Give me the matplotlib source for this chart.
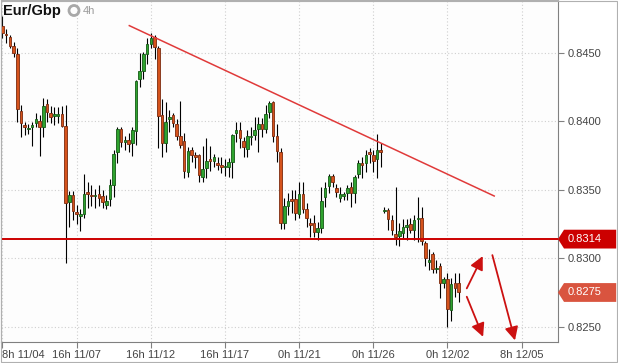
import numpy as np
import matplotlib
matplotlib.use("Agg")
from matplotlib import pyplot as plt
from matplotlib import transforms
from matplotlib.patches import Polygon, Ellipse, Rectangle

# 4h candles, Eur/Gbp
opens = [
    0.84697, 0.84641, 0.84615, 0.84553, 0.84493, 0.84074, 0.83974, 0.83942, 0.83961, 0.83986,
    0.84003, 0.83961, 0.84125, 0.84059, 0.84042, 0.84042, 0.84052, 0.83969, 0.83409, 0.83462,
    0.83340, 0.83311, 0.83325, 0.83482, 0.83462, 0.83452, 0.83469, 0.83455, 0.83391, 0.83431,
    0.83537, 0.83779, 0.83942, 0.83852, 0.83864, 0.83844, 0.83932, 0.84312, 0.84371, 0.84493,
    0.84566, 0.84619, 0.84534, 0.84047, 0.83840, 0.84020, 0.84047, 0.83981, 0.83893, 0.83857,
    0.83632, 0.83791, 0.83754, 0.83754, 0.83596, 0.83657, 0.83725, 0.83713, 0.83694, 0.83681,
    0.83664, 0.83669, 0.83705, 0.83913, 0.83937, 0.83857, 0.83798, 0.83884, 0.83901, 0.83942,
    0.83981, 0.83944, 0.84071, 0.84142, 0.83895, 0.83779, 0.83260, 0.83382, 0.83433, 0.83433,
    0.83321, 0.83467, 0.83360, 0.83255, 0.83255, 0.83189, 0.83218, 0.83445, 0.83528, 0.83601,
    0.83515, 0.83438, 0.83457, 0.83480, 0.83518, 0.83479, 0.83613, 0.83696, 0.83694, 0.83776,
    0.83754, 0.83723, 0.83791, 0.83343, 0.83352, 0.83279, 0.83177, 0.83164, 0.83186, 0.83230,
    0.83250, 0.83206, 0.83284, 0.83296, 0.83113, 0.82974, 0.83031, 0.82919, 0.82943, 0.82821,
    0.82846, 0.82621, 0.82819, 0.82819]
highs = [
    0.84770, 0.84673, 0.84632, 0.84583, 0.84534, 0.84118, 0.83998, 0.83981, 0.83998, 0.84059,
    0.84047, 0.84169, 0.84164, 0.84113, 0.84103, 0.84107, 0.84113, 0.84118, 0.83491, 0.83491,
    0.83389, 0.83360, 0.83615, 0.83555, 0.83535, 0.83506, 0.83535, 0.83499, 0.83462, 0.83579,
    0.83791, 0.83957, 0.83957, 0.83893, 0.83913, 0.83957, 0.84300, 0.84498, 0.84505, 0.84607,
    0.84644, 0.84632, 0.84551, 0.84164, 0.84144, 0.84083, 0.84064, 0.84015, 0.84149, 0.83913,
    0.83815, 0.83815, 0.83779, 0.83760, 0.83820, 0.83876, 0.83820, 0.83762, 0.83742, 0.83742,
    0.83723, 0.83730, 0.83905, 0.83998, 0.83998, 0.83884, 0.83937, 0.83961, 0.84034, 0.84034,
    0.84023, 0.84120, 0.84151, 0.84151, 0.83981, 0.83803, 0.83438, 0.83479, 0.83499, 0.83499,
    0.83559, 0.83559, 0.83401, 0.83292, 0.83316, 0.83267, 0.83523, 0.83559, 0.83613, 0.83613,
    0.83542, 0.83523, 0.83486, 0.83535, 0.83559, 0.83608, 0.83718, 0.83742, 0.83791, 0.83808,
    0.83791, 0.83908, 0.83840, 0.83372, 0.83365, 0.83316, 0.83523, 0.83255, 0.83284, 0.83287,
    0.83292, 0.83316, 0.83450, 0.83372, 0.83128, 0.83067, 0.83048, 0.82987, 0.82963, 0.82865,
    0.82894, 0.82853, 0.82890, 0.82890]
lows = [
    0.84607, 0.84571, 0.84534, 0.84469, 0.83998, 0.83884, 0.83901, 0.83906, 0.83822, 0.83957,
    0.83749, 0.83888, 0.83998, 0.83990, 0.83974, 0.83990, 0.83961, 0.82967, 0.83230, 0.83279,
    0.83250, 0.83201, 0.83296, 0.83369, 0.83382, 0.83369, 0.83382, 0.83369, 0.83360, 0.83384,
    0.83450, 0.83694, 0.83811, 0.83791, 0.83779, 0.83747, 0.83827, 0.84254, 0.84312, 0.84420,
    0.84534, 0.84454, 0.83803, 0.83742, 0.83779, 0.83925, 0.83961, 0.83864, 0.83803, 0.83584,
    0.83596, 0.83705, 0.83657, 0.83555, 0.83555, 0.83584, 0.83640, 0.83669, 0.83645, 0.83621,
    0.83601, 0.83591, 0.83588, 0.83852, 0.83803, 0.83742, 0.83742, 0.83827, 0.83864, 0.83779,
    0.83888, 0.83913, 0.84023, 0.83847, 0.83705, 0.83213, 0.83213, 0.83316, 0.83328, 0.83279,
    0.83292, 0.83328, 0.83230, 0.83157, 0.83157, 0.83133, 0.83182, 0.83376, 0.83474, 0.83523,
    0.83450, 0.83413, 0.83425, 0.83425, 0.83372, 0.83401, 0.83584, 0.83584, 0.83632, 0.83694,
    0.83632, 0.83584, 0.83669, 0.83328, 0.83206, 0.83170, 0.83096, 0.83089, 0.83138, 0.83133,
    0.83182, 0.83133, 0.83121, 0.83096, 0.82945, 0.82914, 0.82890, 0.82890, 0.82707, 0.82780,
    0.82499, 0.82543, 0.82719, 0.82682]
closes = [
    0.84644, 0.84629, 0.84551, 0.84502, 0.84088, 0.83990, 0.83961, 0.83954, 0.83974, 0.84018,
    0.83961, 0.84113, 0.84071, 0.84034, 0.84052, 0.84052, 0.83969, 0.83406, 0.83462, 0.83347,
    0.83325, 0.83325, 0.83469, 0.83467, 0.83452, 0.83462, 0.83440, 0.83413, 0.83416, 0.83535,
    0.83762, 0.83942, 0.83852, 0.83864, 0.83835, 0.83937, 0.84295, 0.84371, 0.84493, 0.84566,
    0.84607, 0.84542, 0.84042, 0.83844, 0.83998, 0.84030, 0.83986, 0.83893, 0.83827, 0.83640,
    0.83786, 0.83754, 0.83742, 0.83608, 0.83650, 0.83711, 0.83713, 0.83740, 0.83681, 0.83669,
    0.83676, 0.83701, 0.83901, 0.83937, 0.83876, 0.83815, 0.83893, 0.83893, 0.83937, 0.83981,
    0.83944, 0.84054, 0.84132, 0.83895, 0.83786, 0.83260, 0.83384, 0.83418, 0.83420, 0.83328,
    0.83467, 0.83357, 0.83292, 0.83243, 0.83194, 0.83218, 0.83418, 0.83515, 0.83601, 0.83559,
    0.83482, 0.83467, 0.83467, 0.83511, 0.83479, 0.83591, 0.83694, 0.83683, 0.83754, 0.83764,
    0.83713, 0.83791, 0.83779, 0.83355, 0.83284, 0.83206, 0.83153, 0.83199, 0.83228, 0.83243,
    0.83206, 0.83279, 0.83296, 0.83128, 0.82999, 0.82987, 0.82921, 0.82931, 0.82821, 0.82848,
    0.82631, 0.82811, 0.82780, 0.82755]

tick_pos = [0, 20, 40, 60, 80, 100, 120, 140]
tick_labels = ["8h 11/04", "16h 11/07", "16h 11/12", "16h 11/17",
               "0h 11/21", "0h 11/26", "0h 12/02", "8h 12/05"]
yticks = [0.8250, 0.8300, 0.8350, 0.8400, 0.8450]

support = 0.8314
last_price = 0.8275
trend_x = [34.2, 132.6]
trend_y = [0.8470, 0.83455]
# arrows: (tail x, tail y, head x, head y)
arrows = [(125.2, 0.82780, 129.5, 0.83016),
          (125.2, 0.82719, 129.6, 0.82426),
          (132.1, 0.83023, 138.2, 0.82400)]

o = np.array(opens); h = np.array(highs); l = np.array(lows); c = np.array(closes)
x = np.arange(len(o))
up = c >= o

plt.rcParams['font.family'] = ['Liberation Sans', 'DejaVu Sans']
fig = plt.figure(figsize=(6.18, 3.63), dpi=100, facecolor='white')
W, H = 618, 363
ax = fig.add_axes([1 / W, 21 / H, 557 / W, 342 / H])
ax.set_facecolor('#fdfdfd')

ax.set_xlim(-0.4, 149.8)
ax.set_ylim(0.823882, 0.848873)

# grid
ax.set_yticks(yticks)
ax.set_xticks(tick_pos)
ax.grid(True, color='#cfcfcf', linestyle=(0, (1, 2)), linewidth=0.8)
ax.set_axisbelow(True)

# candles
ax.vlines(x, l, h, color='black', linewidth=0.8, zorder=2)
body_bot = np.minimum(o, c)
body_h = np.maximum(np.abs(c - o), 0.00008)
ax.bar(x[up], body_h[up], bottom=body_bot[up], width=0.7,
       color='#2fa32f', edgecolor='#155a15', linewidth=0.6, zorder=3)
ax.bar(x[~up], body_h[~up], bottom=body_bot[~up], width=0.7,
       color='#d5531c', edgecolor='#7c2a0e', linewidth=0.6, zorder=3)

# lines
ax.axhline(support, color='#cc0000', linewidth=1.4, zorder=4)
ax.plot(trend_x, trend_y, color='#e03a3a', linewidth=1.1, zorder=4)
for tx, ty, hx, hy in arrows:
    ax.annotate("", xy=(hx, hy), xytext=(tx, ty), annotation_clip=False,
                arrowprops=dict(arrowstyle='-|>', color='#cc1111', lw=1.3,
                                mutation_scale=20, shrinkA=0, shrinkB=0))

# axes style
for s in ['left', 'top']:
    ax.spines[s].set_color('#b0b0b0')
for s in ['right', 'bottom']:
    ax.spines[s].set_color('#808080')
ax.yaxis.tick_right()
ax.tick_params(axis='y', direction='out', length=4, color='#808080',
               labelsize=8, labelcolor='#444444', pad=3)
ax.tick_params(axis='x', direction='out', length=4, color='#808080',
               labelsize=8, labelcolor='#444444', pad=2)
ax.set_yticklabels(["%.4f" % v for v in yticks])
ax.set_xticklabels(tick_labels)
ax.get_xticklabels()[0].set_horizontalalignment('left')

# price tags on the right
tr = transforms.blended_transform_factory(ax.transAxes, ax.transData)
hh = 9.4 / 13685
for val, col in [(support, '#cc0000'), (last_price, '#d9543f')]:
    pts = [(1.0, val), (1.0108, val + hh), (1.1045, val + hh),
           (1.1045, val - hh), (1.0108, val - hh)]
    ax.add_patch(Polygon(pts, closed=True, transform=tr, facecolor=col,
                         edgecolor='none', clip_on=False, zorder=5))
    ax.text(1.0175, val, "%.4f" % val, transform=tr, color='white',
            fontsize=8, ha='left', va='center', zorder=6)

# title
fig.text(3 / W, 1 - 11 / H, "Eur/Gbp", fontsize=10.5, fontweight='bold',
         color='#111111', ha='left', va='center')
fig.add_artist(Ellipse((74 / W, 1 - 10.5 / H), 10 / W, 10 / H,
                       transform=fig.transFigure, facecolor='none',
                       edgecolor='#a8a8a8', linewidth=2))
fig.text(83 / W, 1 - 10.5 / H, "4h", fontsize=8, color='#9a9a9a',
         ha='left', va='center')

# outer frame
fig.add_artist(Rectangle((0.5 / W, 1.5 / H), 616.5 / W, 361 / H,
                         transform=fig.transFigure, facecolor='none',
                         edgecolor='#b0b0b0', linewidth=0.8))

fig.savefig("out.png", dpi=100, facecolor='white')
